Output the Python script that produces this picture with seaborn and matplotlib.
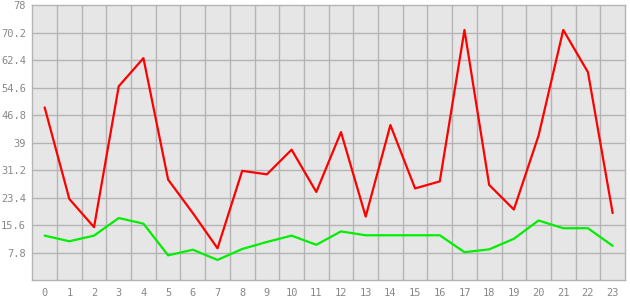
import numpy as np
import pandas as pd
import matplotlib
matplotlib.use("Agg")
import matplotlib.pyplot as plt
import seaborn as sns

hours = list(range(24))
red_values = [49, 23, 15, 55, 63, 28.5, 19, 9, 31, 30, 37, 25, 42, 18, 44, 26, 28, 71, 27, 20, 41, 71, 59, 19]
green_values = [12.6, 11, 12.6, 17.6, 16, 7, 8.6, 5.7, 8.8, 10.8, 12.6, 10, 13.8, 12.7, 12.7, 12.7, 12.7, 7.9, 8.7, 11.7, 16.9, 14.7, 14.7, 9.7]
y_ticks = [7.8, 15.6, 23.4, 31.2, 39, 46.8, 54.6, 62.4, 70.2, 78]
y_tick_labels = ["7.8", "15.6", "23.4", "31.2", "39", "46.8", "54.6", "62.4", "70.2", "78"]

df = pd.DataFrame({
    "hour": hours * 2,
    "value": red_values + green_values,
    "series": ["red"] * 24 + ["green"] * 24,
})

sns.set_style("white")
plt.rcParams["font.family"] = ["DejaVu Sans Mono"]

fig = plt.figure(figsize=(6.3, 3.0), dpi=100)
ax = fig.add_axes([32.3 / 630, 1 - 280 / 300, (625 - 32.3) / 630, (280 - 5.3) / 300])
ax.set_facecolor("#e6e6e6")

sns.lineplot(data=df, x="hour", y="value", hue="series",
             palette={"red": "#ff0000", "green": "#00ee00"},
             linewidth=1.6, legend=False, ax=ax, zorder=3)

ax.set_xlim(-0.5, 23.5)
ax.set_ylim(0, 78)
ax.set_xticks(hours)
ax.set_xticklabels([str(h) for h in hours])
ax.set_yticks(y_ticks)
ax.set_yticklabels(y_tick_labels)
ax.grid(False)
for xv in [h + 0.5 for h in hours[:-1]]:
    ax.axvline(xv, color="#b4b4b4", linewidth=1.0, zorder=1)
for yv in y_ticks[:-1]:
    ax.axhline(yv, color="#b4b4b4", linewidth=1.0, zorder=1)
for s in ax.spines.values():
    s.set_color("#b4b4b4")
    s.set_linewidth(1.0)
    s.set_visible(True)
ax.tick_params(axis="both", which="major", colors="#b4b4b4", labelcolor="#888888",
               labelsize=7.5, length=3.5, width=1.0)
ax.tick_params(axis="x", which="major", pad=2)
ax.tick_params(axis="y", pad=1)
ax.set_xlabel("")
ax.set_ylabel("")

fig.savefig("out.png", dpi=100)
